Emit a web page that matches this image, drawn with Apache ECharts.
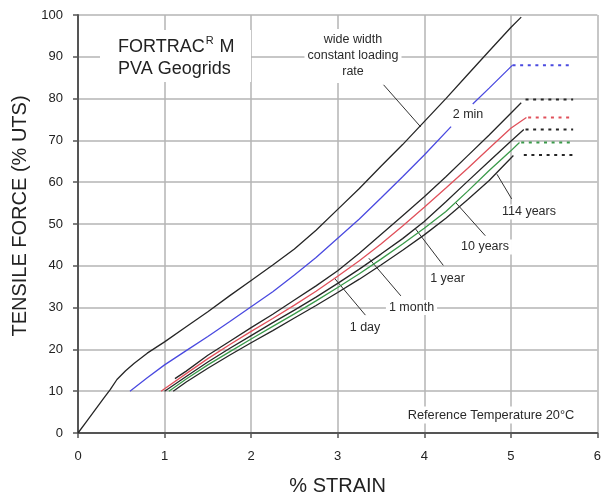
<!DOCTYPE html>
<html>
<head>
<meta charset="utf-8">
<script src="https://cdn.jsdelivr.net/npm/echarts@6/dist/echarts.min.js"></script>
<style>
html,body{margin:0;padding:0;background:#fff;}
#main{width:604px;height:501px;}
</style>
</head>
<body>
<div id="main"></div>
<script>
// ---- data (strain %, tensile force % UTS) ----
var xTicks = [0, 1, 2, 3, 4, 5, 6];
var yTicks = [0, 10, 20, 30, 40, 50, 60, 70, 80, 90, 100];

var wideWidth = [[0,0],[0.1,2.8],[0.2,5.6],[0.3,8.4],[0.37,10.3],[0.45,12.8],[0.55,14.9],[0.65,16.7],[0.8,19.1],[1.0,21.8],[1.25,25.4],[1.5,29],[1.75,32.8],[2.0,36.5],[2.25,40.2],[2.5,44],[2.75,48.5],[3.0,53.5],[3.25,58.5],[3.5,63.8],[3.75,69],[4.0,74.5],[4.25,80],[4.5,85.7],[4.75,91.4],[5.0,97],[5.12,99.5]];

var twoMin = [[0.6,10],[0.8,13.2],[1.0,16.3],[1.25,19.7],[1.5,23.1],[1.75,26.6],[2.0,30.2],[2.25,33.8],[2.5,37.8],[2.75,42],[3.0,46.6],[3.25,51.2],[3.5,56.2],[3.75,61.3],[4.0,66.5],[4.31,73.3],'-',[4.56,78.7],[4.75,82.5],[5.02,88]];

var oneDay = [[1.12,13],[1.25,14.8],[1.5,18.6],[1.75,21.9],[2.0,25.2],[2.25,28.4],[2.5,31.8],[2.75,35.2],[3.0,38.8],[3.25,43],[3.5,47.5],[3.75,52],[4.0,56.5],[4.25,61.3],[4.5,66.3],[4.75,71.3],[5.0,76.5],[5.12,79]];
var oneMonth = [[0.96,10],[1.0,10.6],[1.25,14.2],[1.5,17.8],[1.75,21.1],[2.0,24.3],[2.25,27.4],[2.5,30.6],[2.75,33.9],[3.0,37.5],[3.25,41.2],[3.5,45.2],[3.75,49.5],[4.0,54],[4.25,58.6],[4.5,63.3],[4.75,68.1],[5.0,72.9],[5.18,75.5]];
var oneYear = [[1.0,10],[1.25,13.5],[1.5,17],[1.75,20.2],[2.0,23.3],[2.25,26.4],[2.5,29.4],[2.75,32.5],[3.0,35.8],[3.25,39.2],[3.5,42.8],[3.75,46.5],[4.0,50.6],[4.25,55.3],[4.5,60.2],[4.75,65],[5.0,69.8],[5.15,72.6]];
var tenYears = [[1.05,10],[1.25,12.9],[1.5,16.3],[1.75,19.4],[2.0,22.5],[2.25,25.5],[2.5,28.5],[2.75,31.6],[3.0,34.8],[3.25,38.1],[3.5,41.6],[3.75,45.2],[4.0,49],[4.25,53],[4.5,57.8],[4.75,62.8],[5.0,67.5],[5.1,69.5]];
var years114 = [[1.1,10],[1.25,12.2],[1.5,15.5],[1.75,18.6],[2.0,21.6],[2.25,24.5],[2.5,27.5],[2.75,30.5],[3.0,33.6],[3.25,36.8],[3.5,40.2],[3.75,43.7],[4.0,47.4],[4.25,51.4],[4.5,55.8],[4.75,60.4],[5.03,66.4]];

// plateau (dotted) levels: [start strain, end strain, force]
var plateauTwoMin   = [5.02, 5.72, 88];
var plateauOneDay   = [5.17, 5.72, 79.8];
var plateauOneMonth = [5.20, 5.72, 75.5];
var plateauOneYear  = [5.17, 5.72, 72.6];
var plateauTenYears = [5.12, 5.72, 69.5];
var plateau114      = [5.15, 5.72, 66.5];

// annotation leader lines (data coords)
var leaderLines = [[3.53,83.3],[3.96,73.2],'-',
                   [5.01,56.0],[4.84,61.9],'-',
                   [4.705,47.2],[4.36,55.2],'-',
                   [4.22,40.1],[3.90,48.8],'-',
                   [3.73,32.8],[3.36,41.8],'-',
                   [3.32,28.2],[2.96,37.1]];

var FONT = "'Liberation Sans', Arial, Helvetica, sans-serif";
var BLACK = '#262626', BLUE = '#4a4ae0', RED = '#e0505a', GREEN = '#3a9a4a';

function plateau(p){ return [[p[0], p[2]], [p[1], p[2]]]; }
function solid(name, data, color){
  return {name:name, type:'line', data:data, symbol:'none', smooth:false, connectNulls:false,
          lineStyle:{color:color, width:1.3}, z:3, silent:true, animation:false};
}
function dotted(name, p, color){
  return {name:name, type:'line', data:plateau(p), symbol:'none',
          lineStyle:{color:color, width:2, type:[3,4.6]}, z:3, silent:true, animation:false};
}

var chart = echarts.init(document.getElementById('main'), null, {renderer:'canvas'});
var option = {
  backgroundColor:'#fff',
  animation:false,
  grid:{left:78, right:5, top:15, bottom:66, containLabel:false},
  xAxis:{
    type:'value', min:xTicks[0], max:xTicks[xTicks.length-1], interval:1,
    name:'% STRAIN', nameLocation:'middle', nameGap:43,
    nameTextStyle:{fontFamily:FONT, fontSize:20, color:'#222'},
    axisLine:{show:true, lineStyle:{color:'#555', width:2}},
    axisTick:{show:true, length:5, lineStyle:{color:'#555', width:1.5}},
    axisLabel:{fontFamily:FONT, fontSize:13, color:'#222', margin:17},
    splitLine:{show:true, lineStyle:{color:'#b4b4b4', width:1.5}}
  },
  yAxis:{
    type:'value', min:yTicks[0], max:yTicks[yTicks.length-1], interval:10,
    name:'TENSILE FORCE (% UTS)', nameLocation:'middle', nameGap:45, nameRotate:90,
    nameTextStyle:{fontFamily:FONT, fontSize:20, color:'#222', padding:[0,0,0,16]},
    axisLine:{show:true, lineStyle:{color:'#555', width:2}},
    axisTick:{show:true, length:5, lineStyle:{color:'#555', width:1.5}},
    axisLabel:{fontFamily:FONT, fontSize:13, color:'#222', margin:15},
    splitLine:{show:true, lineStyle:{color:'#b4b4b4', width:1.5}}
  },
  series:[
    solid('wide width constant loading rate', wideWidth, BLACK),
    solid('2 min', twoMin, BLUE),
    solid('1 day', oneDay, BLACK),
    solid('1 month', oneMonth, RED),
    solid('1 year', oneYear, BLACK),
    solid('10 years', tenYears, GREEN),
    solid('114 years', years114, BLACK),
    dotted('2 min plateau', plateauTwoMin, BLUE),
    dotted('1 day plateau', plateauOneDay, BLACK),
    dotted('1 month plateau', plateauOneMonth, RED),
    dotted('1 year plateau', plateauOneYear, BLACK),
    dotted('10 years plateau', plateauTenYears, GREEN),
    dotted('114 years plateau', plateau114, BLACK),
    {name:'leaders', type:'line', data:leaderLines, symbol:'none', connectNulls:false,
     lineStyle:{color:'#333', width:1}, z:2, silent:true, animation:false}
  ],
  graphic:[]
};
chart.setOption(option);

// ---- annotation text ----
function txt(text, x, y, opts){
  opts = opts || {};
  return {type:'text', x:x, y:y, z:10, silent:true,
    style:{text:text, fontFamily:FONT, fontSize:opts.size||12.5, fill:'#2a2a2a',
           align:opts.align||'center', verticalAlign:'middle',
           lineHeight:opts.lineHeight, backgroundColor:opts.bg===false?null:'#fff',
           padding:opts.padding||[1,3], rich:opts.rich}};
}
var graphics = [
  {type:'rect', shape:{x:100, y:30, width:151, height:52}, style:{fill:'#fff'}, z:9, silent:true},
  {type:'text', x:118, y:47, z:10, silent:true,
   style:{text:'{a|FORTRAC}{s|R}{a| M}', fontFamily:FONT, align:'left', verticalAlign:'middle',
     rich:{a:{fontFamily:FONT, fontSize:18, fill:'#222'},
           s:{fontFamily:FONT, fontSize:11, fill:'#222', verticalAlign:'top', padding:[0,1,12,1]}}}},
  {type:'text', x:118, y:69.5, z:10, silent:true,
   style:{text:'PVA Geogrids', fontFamily:FONT, fontSize:18, fill:'#222', align:'left', verticalAlign:'middle'}},
  txt('wide width\nconstant loading\nrate', 353, 56, {size:12.5, lineHeight:16, padding:[3,3]}),
  txt('2 min', 468, 115),
  txt('114 years', 529, 212),
  txt('10 years', 485, 247),
  txt('1 year', 447.5, 278.5),
  txt('1 month', 411.5, 307.5),
  txt('1 day', 365, 327.5),
  txt('Reference Temperature 20°C', 491, 415, {size:12.8, padding:[2,3]})
];
chart.setOption({graphic:graphics});
</script>
</body>
</html>
